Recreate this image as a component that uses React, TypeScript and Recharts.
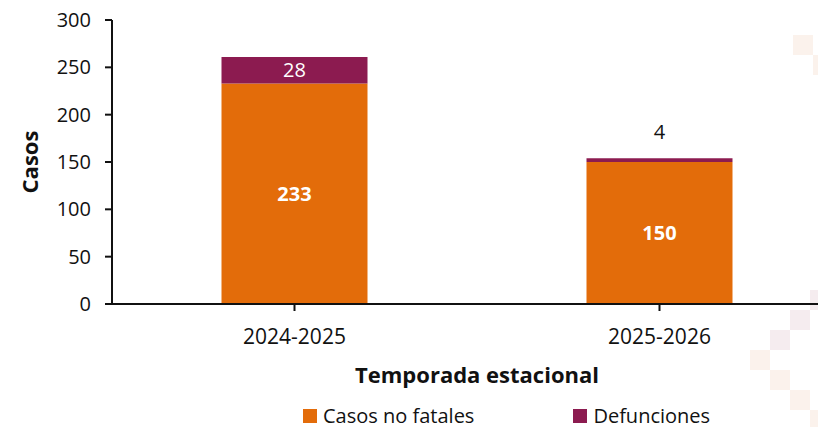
import React from 'react';
import { BarChart, Bar, XAxis, YAxis, LabelList, Label } from 'recharts';

const categories = ['2024-2025', '2025-2026'];
const nonFatal = [233, 150];
const deaths = [28, 4];
const yTicks = [0, 50, 100, 150, 200, 250, 300];
const seriesNames = ['Casos no fatales', 'Defunciones'];

const data = categories.map((c, i) => ({ cat: c, nonFatal: nonFatal[i], deaths: deaths[i] }));

const ORANGE = '#E36C0A';
const PURPLE = '#8C1B50';
const FONT = '"Open Sans", sans-serif';

const decoSquares: { x: number; y: number; c: string }[] = [
  { x: 785, y: 27, c: '#FBF2EC' },
  { x: 805, y: 47, c: '#FBF2EC' },
  { x: 802, y: 282, c: '#F5ECEF' },
  { x: 782, y: 302, c: '#F5ECEF' },
  { x: 762, y: 322, c: '#F5ECEF' },
  { x: 742, y: 342, c: '#FBF2EC' },
  { x: 762, y: 362, c: '#FBF2EC' },
  { x: 782, y: 382, c: '#FBF2EC' },
  { x: 802, y: 402, c: '#FBF2EC' },
];

const makeLabel = (bold: boolean) => (props: any) => {
  const { x, y, width, height, value } = props;
  const cx = x + width / 2;
  if (height < 20) {
    return (
      <text x={cx} y={y - 19} textAnchor="middle" fontFamily={FONT} fontSize={20} fill="#111">
        {value}
      </text>
    );
  }
  return (
    <text
      x={cx}
      y={y + height / 2}
      dy="0.35em"
      textAnchor="middle"
      fontFamily={FONT}
      fontSize={20}
      fontWeight={bold ? 700 : 400}
      fill="#fff"
    >
      {value}
    </text>
  );
};

export default function App() {
  return (
    <div style={{ position: 'relative', width: 818, height: 419, overflow: 'hidden', background: '#fff' }}>
      {decoSquares.map((s, i) => (
        <div
          key={i}
          style={{ position: 'absolute', left: s.x, top: s.y, width: 20, height: 20, background: s.c }}
        />
      ))}
      <div style={{ position: 'absolute', left: 0, top: 0 }}>
        <BarChart
          width={840}
          height={420}
          data={data}
          margin={{ top: 12, right: 6, left: 0, bottom: 0 }}
          barCategoryGap="30%"
        >
          <XAxis
            dataKey="cat"
            height={124}
            tickSize={7}
            tickMargin={18}
            axisLine={{ stroke: '#111', strokeWidth: 2 }}
            tickLine={{ stroke: '#111', strokeWidth: 2 }}
            tick={{ fontFamily: FONT, fontSize: 21, fill: '#111' }}
          >
            <Label
              content={({ viewBox }: any) => (
                <text
                  x={viewBox.x + viewBox.width / 2}
                  y={367}
                  dy="0.35em"
                  textAnchor="middle"
                  fontFamily={FONT}
                  fontSize={22}
                  fontWeight={700}
                  fill="#111"
                >
                  Temporada estacional
                </text>
              )}
            />
          </XAxis>
          <YAxis
            width={104}
            domain={[0, 300]}
            ticks={yTicks}
            interval={0}
            tickSize={7}
            tickMargin={14}
            axisLine={{ stroke: '#111', strokeWidth: 2 }}
            tickLine={{ stroke: '#111', strokeWidth: 2 }}
            tick={{ fontFamily: FONT, fontSize: 20, fill: '#111' }}
          >
            <Label
              content={({ viewBox }: any) => (
                <text
                  x={22}
                  y={viewBox.y + viewBox.height / 2}
                  transform={`rotate(-90, 22, ${viewBox.y + viewBox.height / 2})`}
                  dy="0.35em"
                  textAnchor="middle"
                  fontFamily={FONT}
                  fontSize={22}
                  fontWeight={700}
                  fill="#111"
                >
                  Casos
                </text>
              )}
            />
          </YAxis>
          <Bar dataKey="nonFatal" stackId="a" fill={ORANGE} isAnimationActive={false} name={seriesNames[0]}>
            <LabelList dataKey="nonFatal" content={makeLabel(true)} />
          </Bar>
          <Bar dataKey="deaths" stackId="a" fill={PURPLE} isAnimationActive={false} name={seriesNames[1]}>
            <LabelList dataKey="deaths" content={makeLabel(false)} />
          </Bar>
        </BarChart>
      </div>
      <div
        style={{
          position: 'absolute',
          left: 295,
          top: 396,
          display: 'flex',
          gap: 99,
          fontFamily: FONT,
          fontSize: 20,
          color: '#111',
          lineHeight: '24px',
        }}
      >
        {seriesNames.map((n, i) => (
          <div key={n} style={{ display: 'flex', alignItems: 'center' }}>
            <span style={{ display: 'inline-block', width: 14, height: 14, background: i === 0 ? ORANGE : PURPLE, marginRight: 6 }} />
            {n}
          </div>
        ))}
      </div>
    </div>
  );
}
